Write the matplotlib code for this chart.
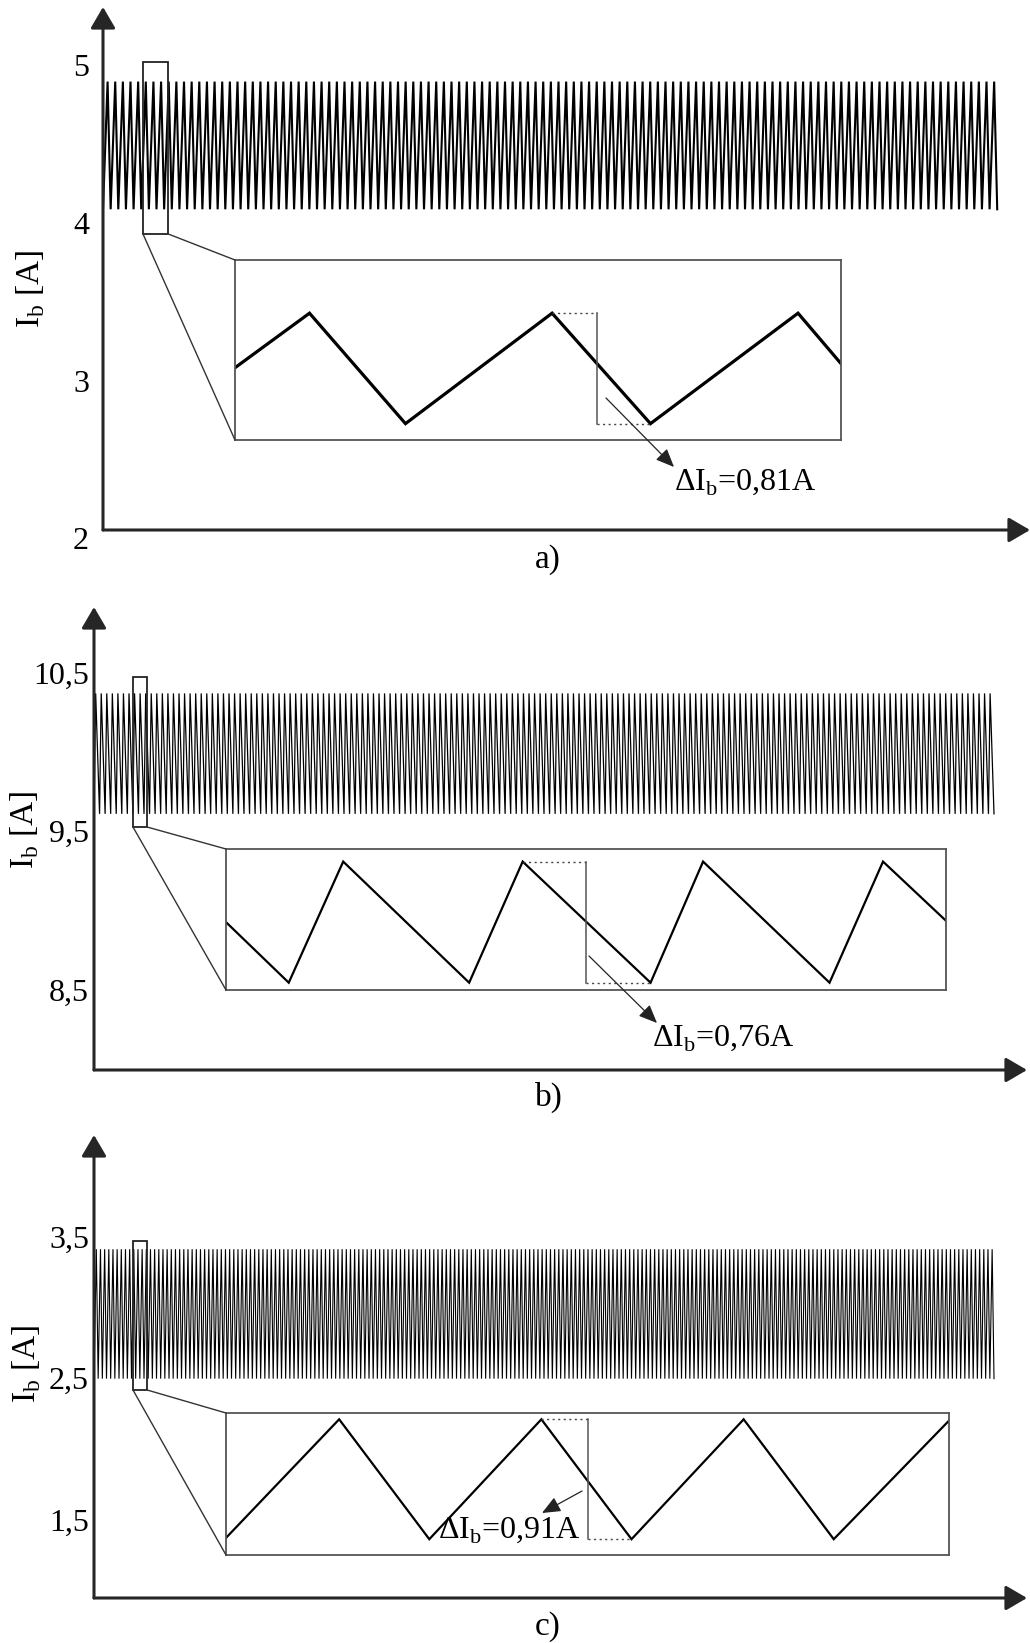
import numpy as np
import matplotlib.pyplot as plt
from matplotlib.patches import Rectangle, ConnectionPatch
from matplotlib.transforms import blended_transform_factory

plt.rcParams['font.family'] = ['Liberation Serif', 'DejaVu Serif']
plt.rcParams['mathtext.fontset'] = 'custom'
plt.rcParams['mathtext.rm'] = 'Liberation Serif'

W, H = 1030, 1643          # canvas size in px (dpi 100)
WINDOW_MS = 6.0            # time span of the long traces
XLIM_MS = 6.22

# ---- a) ----------------------------------------------------------------
a_i_max, a_i_min = 4.92, 4.11      # ripple band [A]
a_f_sw = 19.5                      # switching frequency [kHz]
a_rise = 0.60                      # rising part of one period
a_ticks = [2, 3, 4, 5]
a_tick_labels = ['2', '3', '4', '5']
a_zoom_t = [0, 15.6, 35.7, 66.4, 87.0, 117.9, 126.9]        # [us]
a_zoom_i = [4.52, 4.92, 4.11, 4.92, 4.11, 4.92, 4.55]       # [A]
a_bracket_t = 75.8
a_delta = '0,81'

# ---- b) ----------------------------------------------------------------
b_i_max, b_i_min = 10.39, 9.63
b_f_sw = 27.0
b_rise = 0.30
b_ticks = [8.5, 9.5, 10.5]
b_tick_labels = ['8,5', '9,5', '10,5']
b_zoom_t = [0, 12.9, 24.1, 50.0, 61.0, 87.3, 98.1, 124.1, 135.1, 148.0]
b_zoom_i = [10.01, 9.63, 10.39, 9.63, 10.39, 9.63, 10.39, 9.63, 10.39, 10.02]
b_bracket_t = 74.1
b_delta = '0,76'

# ---- c) ----------------------------------------------------------------
c_i_max, c_i_min = 3.435, 2.52
c_f_sw = 36.0
c_rise = 0.555
c_ticks = [1.5, 2.5, 3.5]
c_tick_labels = ['1,5', '2,5', '3,5']
c_zoom_t = [0, 15.55, 27.94, 43.34, 55.73, 71.14, 83.52, 99.36]
c_zoom_i = [2.53, 3.43, 2.52, 3.43, 2.52, 3.43, 2.52, 3.42]
c_bracket_t = 49.7
c_delta = '0,91'

AX_COLOR = '#262626'
TICK_FS = 23
LABEL_FS = 24


def px_axes(fig, x0, y0, x1, y1):
    return fig.add_axes([x0 / W, 1 - y1 / H, (x1 - x0) / W, (y1 - y0) / H])


def fpx(x, y):
    return x / W, 1 - y / H


def ripple(i_max, i_min, f_sw, rise):
    # piecewise-linear inductor current, vertices only
    period = 1.0 / f_sw
    n = int(round(WINDOW_MS * f_sw))
    k = np.arange(n)
    t = np.column_stack([k * period, (k + rise) * period]).ravel()
    i = np.tile([i_min, i_max], n)
    return np.append(t, n * period), np.append(i, i_min)


def draw_panel(fig, main_box, ylim, trace, trace_lw, ticks, tick_labels, tick_gap,
               zoom_rect, inset_box, inset_xlim, inset_ylim, zoom_t, zoom_i, zoom_lw,
               bracket_t, arrow_tail, arrow_head, delta, delta_pos, ylabel_pos, letter, letter_pos):
    ax = px_axes(fig, *main_box)
    ax.set_xlim(0, XLIM_MS)
    ax.set_ylim(*ylim)
    for s in ax.spines.values():
        s.set_visible(False)
    ax.set_xticks([])
    ax.set_yticks([])
    ax.patch.set_alpha(0)

    t, i = trace
    ax.plot(t, i, color='black', lw=trace_lw, solid_joinstyle='miter')

    arrow = dict(arrowstyle='-|>,head_length=0.65,head_width=0.38', mutation_scale=20,
                 lw=2.2, color=AX_COLOR, shrinkA=0, shrinkB=0)
    ax.annotate('', xy=(0, 1), xytext=(0, 0), xycoords='axes fraction', arrowprops=arrow)
    ax.annotate('', xy=(1, 0), xytext=(0, 0), xycoords='axes fraction', arrowprops=arrow)

    tr = blended_transform_factory(ax.transAxes, ax.transData)
    for v, lab in zip(ticks, tick_labels):
        ax.annotate(lab, xy=(0, v), xycoords=tr, xytext=(-tick_gap * 0.72, 0),
                    textcoords='offset points', ha='right', va='center',
                    fontsize=TICK_FS, annotation_clip=False)

    t0, t1, i0, i1 = zoom_rect
    ax.add_patch(Rectangle((t0, i0), t1 - t0, i1 - i0, fill=False, lw=1.3,
                           ec='#222222', zorder=3))

    axi = px_axes(fig, *inset_box)
    axi.set_xlim(*inset_xlim)
    axi.set_ylim(*inset_ylim)
    axi.set_xticks([])
    axi.set_yticks([])
    for s in axi.spines.values():
        s.set_color('#555555')
        s.set_linewidth(1.3)
    axi.plot(zoom_t, zoom_i, color='black', lw=zoom_lw, solid_joinstyle='miter')

    # ripple bracket: previous peak and following valley
    zt = np.asarray(zoom_t)
    zi = np.asarray(zoom_i)
    pk = max(k for k in range(len(zt)) if zt[k] < bracket_t and zi[k] == zi.max())
    vl = min(k for k in range(len(zt)) if zt[k] > bracket_t and zi[k] == zi.min())
    axi.plot([zt[pk], bracket_t], [zi[pk]] * 2, ls=(0, (1.5, 2.5)), lw=1.0, color='#444444')
    axi.plot([bracket_t, zt[vl]], [zi[vl]] * 2, ls=(0, (1.5, 2.5)), lw=1.0, color='#444444')
    axi.plot([bracket_t] * 2, [zi[vl], zi[pk]], lw=1.1, color='#555555')

    fig.add_artist(ConnectionPatch(xyA=(t0, i0), coordsA=ax.transData, xyB=(0, 0),
                                   coordsB=axi.transAxes, lw=1.0, color='#333333'))
    fig.add_artist(ConnectionPatch(xyA=(t1, i0), coordsA=ax.transData, xyB=(0, 1),
                                   coordsB=axi.transAxes, lw=1.0, color='#333333'))

    fig.add_artist(plt.Annotation('', xy=fpx(*arrow_head), xytext=fpx(*arrow_tail),
                                  xycoords='figure fraction',
                                  arrowprops=dict(arrowstyle='-|>,head_length=0.75,head_width=0.32',
                                                  mutation_scale=15, lw=0.9, color='#222222',
                                                  shrinkA=0, shrinkB=0)))
    fig.text(*fpx(*delta_pos), 'ΔI$_\\mathregular{b}$=' + delta + 'A', fontsize=TICK_FS,
             ha='left', va='center')

    fig.text(*fpx(*ylabel_pos), 'I$_\\mathregular{b}$ [A]', fontsize=LABEL_FS, rotation=90,
             ha='center', va='center')
    fig.text(*fpx(*letter_pos), letter, fontsize=LABEL_FS, ha='center', va='center')


fig = plt.figure(figsize=(W / 100, H / 100), dpi=100)

draw_panel(fig, (103, 7, 1030, 530), (2.076, 5.393),
           ripple(a_i_max, a_i_min, a_f_sw, a_rise), 1.5, a_ticks, a_tick_labels, 14,
           (0.268, 0.436, 3.954, 5.044), (235, 260, 841, 440), (0, 126.9), (3.99, 5.31),
           a_zoom_t, a_zoom_i, 2.3, a_bracket_t, (606, 398), (674, 467), a_delta,
           (674, 482), (31, 289), 'a)', (548, 560))

draw_panel(fig, (94, 607, 1027, 1070), (8.014, 10.935),
           ripple(b_i_max, b_i_min, b_f_sw, b_rise), 0.9, b_ticks, b_tick_labels, 5,
           (0.260, 0.354, 9.547, 10.494), (226, 849, 946, 990), (0, 148.05), (9.584, 10.469),
           b_zoom_t, b_zoom_i, 1.6, b_bracket_t, (589, 956), (657, 1023), b_delta,
           (652, 1038), (25, 830), 'b)', (549, 1097))

draw_panel(fig, (94, 1135, 1027, 1598), (0.97, 4.242),
           ripple(c_i_max, c_i_min, c_f_sw, c_rise), 0.8, c_ticks, c_tick_labels, 5,
           (0.260, 0.354, 2.44, 3.493), (226, 1413, 949, 1555), (0, 99.36), (2.40, 3.478),
           c_zoom_t, c_zoom_i, 1.6, c_bracket_t, (582, 1491), (542, 1513), c_delta,
           (438, 1530), (27, 1364), 'c)', (548, 1627))

fig.savefig('out.png', dpi=100, facecolor='white')
